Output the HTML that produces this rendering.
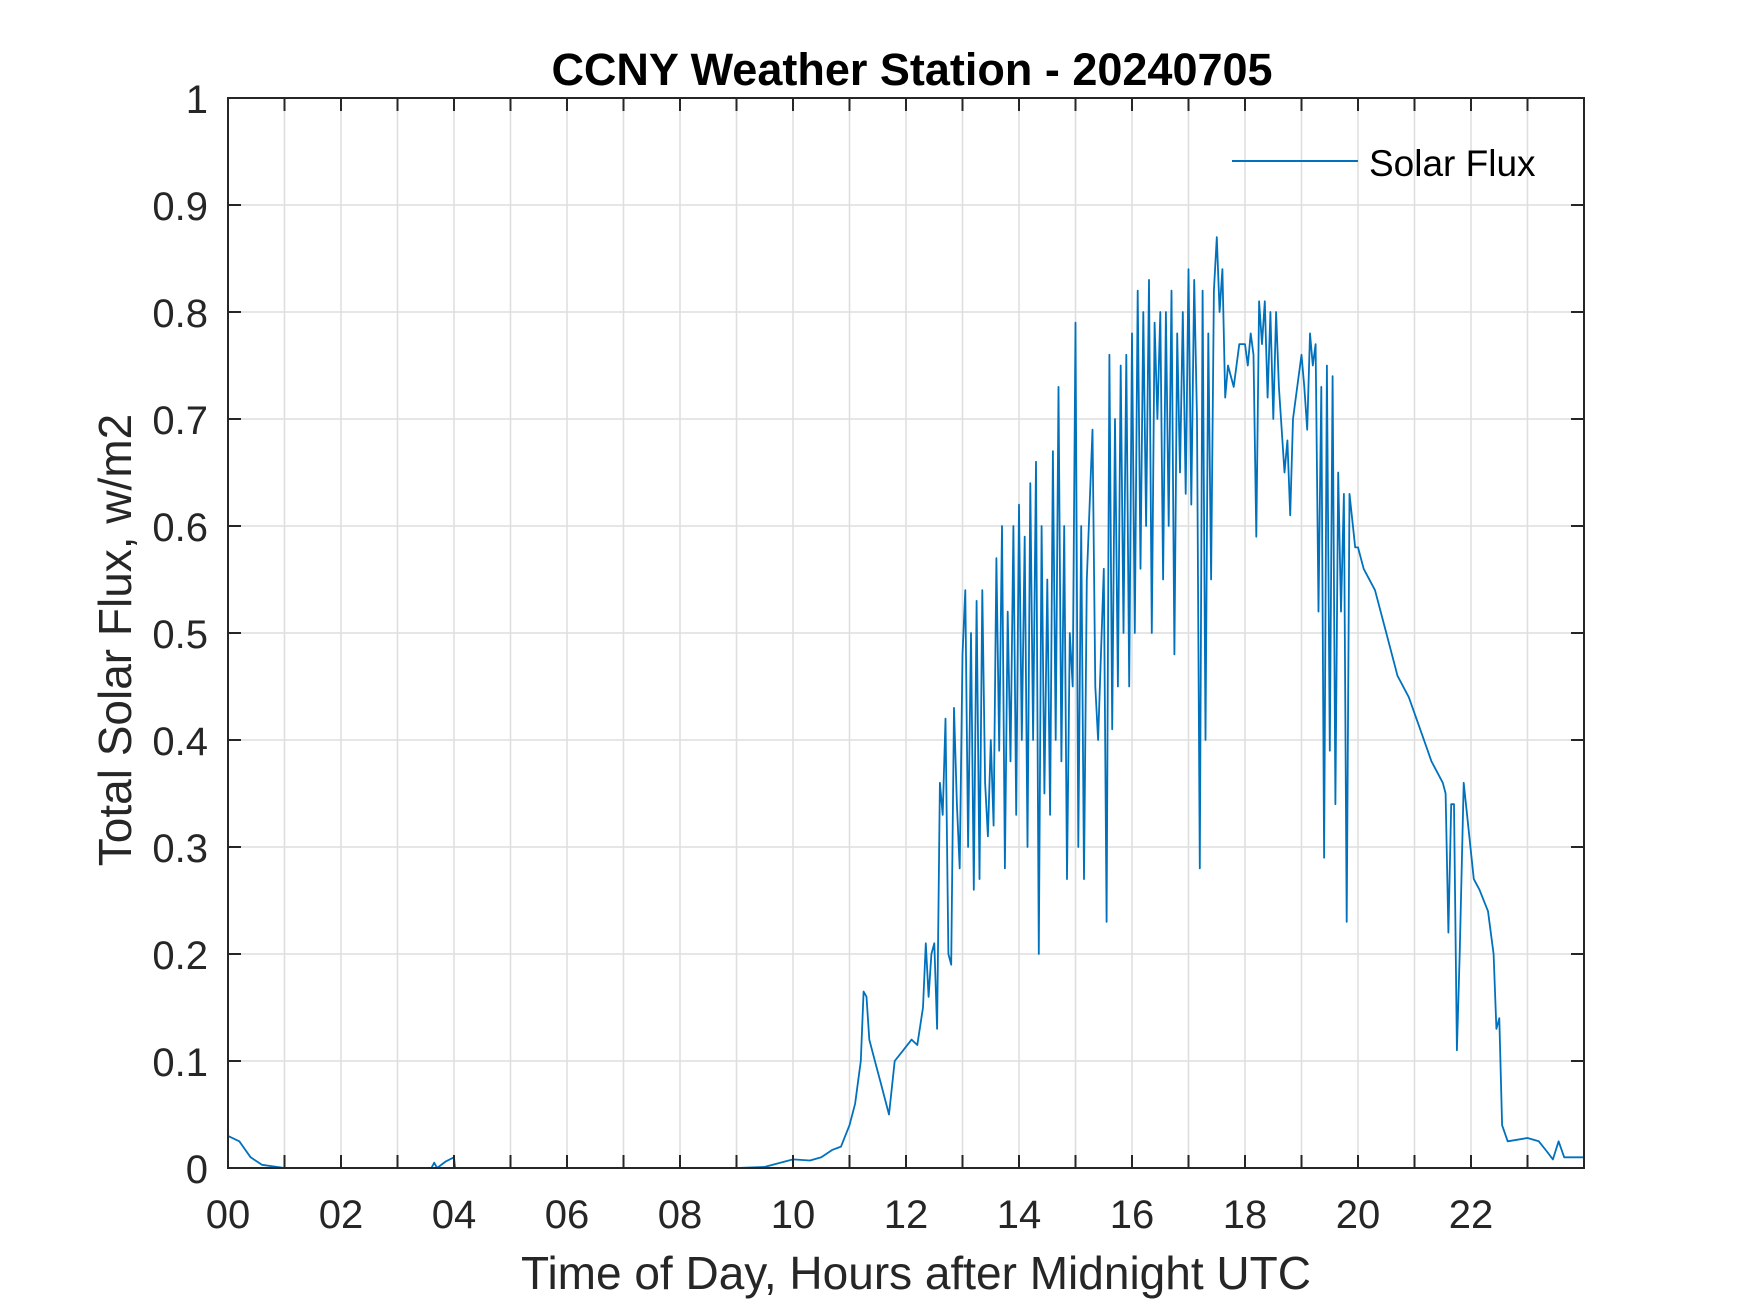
<!DOCTYPE html>
<html><head><meta charset="utf-8">
<style>
html,body{margin:0;padding:0;background:#fff;}
svg{display:block;font-family:"Liberation Sans",Arial,sans-serif;}
</style></head>
<body>
<svg id="chart" width="1750" height="1313" viewBox="0 0 1750 1313" xmlns="http://www.w3.org/2000/svg">
<rect width="1750" height="1313" fill="#fff"/>
<g id="grid"></g>
<g id="series"></g>
<g id="axes"></g>
<text x="912" y="85" text-anchor="middle" font-size="45" font-weight="bold" fill="#000">CCNY Weather Station - 20240705</text>
<text x="916" y="1289" text-anchor="middle" font-size="46" fill="#262626">Time of Day, Hours after Midnight UTC</text>
<text transform="translate(131,640) rotate(-90)" text-anchor="middle" font-size="46" fill="#262626">Total Solar Flux, w/m2</text>
<g>
<line x1="1232" y1="161" x2="1358" y2="161" stroke="#0072BD" stroke-width="2"/>
<text x="1369" y="176" font-size="37" fill="#000">Solar Flux</text>
</g>
</svg>
<script>
const hours = [0,0.2,0.4,0.6,1,3.6,3.65,3.7,3.85,4.0,4.02,9.0,9.5,10,10.3,10.5,10.7,10.85,11,11.1,11.2,11.25,11.3,11.35,11.45,11.55,11.7,11.8,11.95,12.1,12.2,12.3,12.35,12.4,12.45,12.5,12.55,12.6,12.65,12.7,12.75,12.8,12.85,12.9,12.95,13.0,13.05,13.1,13.15,13.2,13.25,13.3,13.35,13.4,13.45,13.5,13.55,13.6,13.65,13.7,13.75,13.8,13.85,13.9,13.95,14.0,14.05,14.1,14.15,14.2,14.25,14.3,14.35,14.4,14.45,14.5,14.55,14.6,14.65,14.7,14.75,14.8,14.85,14.9,14.95,15.0,15.05,15.1,15.15,15.2,15.3,15.35,15.4,15.5,15.55,15.6,15.65,15.7,15.75,15.8,15.85,15.9,15.95,16.0,16.05,16.1,16.15,16.2,16.25,16.3,16.35,16.4,16.45,16.5,16.55,16.6,16.65,16.7,16.75,16.8,16.85,16.9,16.95,17.0,17.05,17.1,17.15,17.2,17.25,17.3,17.35,17.4,17.45,17.5,17.55,17.6,17.65,17.7,17.8,17.9,18.0,18.05,18.1,18.15,18.2,18.25,18.3,18.35,18.4,18.45,18.5,18.55,18.6,18.7,18.75,18.8,18.85,18.9,19.0,19.05,19.1,19.15,19.2,19.25,19.3,19.35,19.4,19.45,19.5,19.55,19.6,19.65,19.7,19.75,19.8,19.85,19.95,20.0,20.1,20.3,20.5,20.7,20.9,21.1,21.3,21.5,21.55,21.6,21.65,21.7,21.75,21.8,21.87,21.95,22.05,22.15,22.3,22.4,22.45,22.5,22.55,22.65,23.0,23.2,23.35,23.45,23.55,23.65,24];
const flux = [0.03,0.025,0.01,0.003,0,0,0.005,0,0.006,0.01,0,0,0.001,0.008,0.007,0.01,0.017,0.02,0.04,0.06,0.1,0.165,0.16,0.12,0.1,0.08,0.05,0.1,0.11,0.12,0.115,0.15,0.21,0.16,0.2,0.21,0.13,0.36,0.33,0.42,0.2,0.19,0.43,0.34,0.28,0.48,0.54,0.3,0.5,0.26,0.53,0.27,0.54,0.36,0.31,0.4,0.32,0.57,0.39,0.6,0.28,0.52,0.38,0.6,0.33,0.62,0.4,0.59,0.3,0.64,0.4,0.66,0.2,0.6,0.35,0.55,0.33,0.67,0.4,0.73,0.38,0.6,0.27,0.5,0.45,0.79,0.3,0.6,0.27,0.55,0.69,0.45,0.4,0.56,0.23,0.76,0.41,0.7,0.45,0.75,0.5,0.76,0.45,0.78,0.5,0.82,0.56,0.8,0.6,0.83,0.5,0.79,0.7,0.8,0.55,0.8,0.6,0.82,0.48,0.78,0.65,0.8,0.63,0.84,0.62,0.83,0.7,0.28,0.82,0.4,0.78,0.55,0.82,0.87,0.8,0.84,0.72,0.75,0.73,0.77,0.77,0.75,0.78,0.76,0.59,0.81,0.77,0.81,0.72,0.8,0.7,0.8,0.73,0.65,0.68,0.61,0.7,0.72,0.76,0.73,0.69,0.78,0.75,0.77,0.52,0.73,0.29,0.75,0.39,0.74,0.34,0.65,0.52,0.63,0.23,0.63,0.58,0.58,0.56,0.54,0.5,0.46,0.44,0.41,0.38,0.36,0.35,0.22,0.34,0.34,0.11,0.2,0.36,0.32,0.27,0.26,0.24,0.2,0.13,0.14,0.04,0.025,0.028,0.025,0.015,0.008,0.025,0.01,0.01];
const yTicks = [0,0.1,0.2,0.3,0.4,0.5,0.6,0.7,0.8,0.9,1];
const yTickLabels = ["0","0.1","0.2","0.3","0.4","0.5","0.6","0.7","0.8","0.9","1"];
const xTicks = [0,1,2,3,4,5,6,7,8,9,10,11,12,13,14,15,16,17,18,19,20,21,22,23,24];
const xTickLabels = ["00","02","04","06","08","10","12","14","16","18","20","22"];

const L=228,R=1584,T=98,B=1168;
const xs = h => L + (h/24)*(R-L);
const ys = v => B - v*(B-T);
const NS="http://www.w3.org/2000/svg";
function mk(tag, parent){const e=document.createElementNS(NS,tag);parent.appendChild(e);return e;}
const grid=document.getElementById('grid'), axes=document.getElementById('axes'), series=document.getElementById('series');

xTicks.forEach(h=>{
  const x=xs(h);
  if(h>0&&h<24){
    const g=mk('line',grid);
    
    
    g.setAttribute('x1',x);g.setAttribute('x2',x);g.setAttribute('y1',T);g.setAttribute('y2',B);
    g.setAttribute('stroke','#dedede');g.setAttribute('stroke-width','1.5');
  }
  [[B,B-13],[T,T+13]].forEach(p=>{
    const t=mk('line',axes);
    
    
    t.setAttribute('x1',x);t.setAttribute('x2',x);t.setAttribute('y1',p[0]);t.setAttribute('y2',p[1]);
    t.setAttribute('stroke','#262626');t.setAttribute('stroke-width','2');
  });
});
xTickLabels.forEach((lab,i)=>{
  const t=mk('text',axes);
  
  
  t.setAttribute('x',xs(i*2));t.setAttribute('y',1228);
  t.setAttribute('text-anchor','middle');t.setAttribute('font-size','40');t.setAttribute('fill','#262626');
  t.textContent=lab;
});
yTicks.forEach((v,i)=>{
  const y=ys(v);
  if(v>0&&v<1){
    const g=mk('line',grid);
    
    
    g.setAttribute('x1',L);g.setAttribute('x2',R);g.setAttribute('y1',y);g.setAttribute('y2',y);
    g.setAttribute('stroke','#dedede');g.setAttribute('stroke-width','1.5');
  }
  [[L,L+13],[R,R-13]].forEach(p=>{
    const t=mk('line',axes);
    
    
    t.setAttribute('x1',p[0]);t.setAttribute('x2',p[1]);t.setAttribute('y1',y);t.setAttribute('y2',y);
    t.setAttribute('stroke','#262626');t.setAttribute('stroke-width','2');
  });
  const lab=mk('text',axes);
  
  
  lab.setAttribute('x',208);lab.setAttribute('y',y+15);
  lab.setAttribute('text-anchor','end');lab.setAttribute('font-size','40');lab.setAttribute('fill','#262626');
  lab.textContent=yTickLabels[i];
});
const box=mk('rect',axes);


box.setAttribute('x',L);box.setAttribute('y',T);box.setAttribute('width',R-L);box.setAttribute('height',B-T);
box.setAttribute('fill','none');box.setAttribute('stroke','#262626');box.setAttribute('stroke-width','2');

const path=mk('polyline',series);


path.setAttribute('points',hours.map((h,i)=>xs(h).toFixed(1)+','+ys(flux[i]).toFixed(1)).join(' '));
path.setAttribute('fill','none');path.setAttribute('stroke','#0072BD');path.setAttribute('stroke-width','1.8');path.setAttribute('stroke-linejoin','round');
</script>
</body></html>
